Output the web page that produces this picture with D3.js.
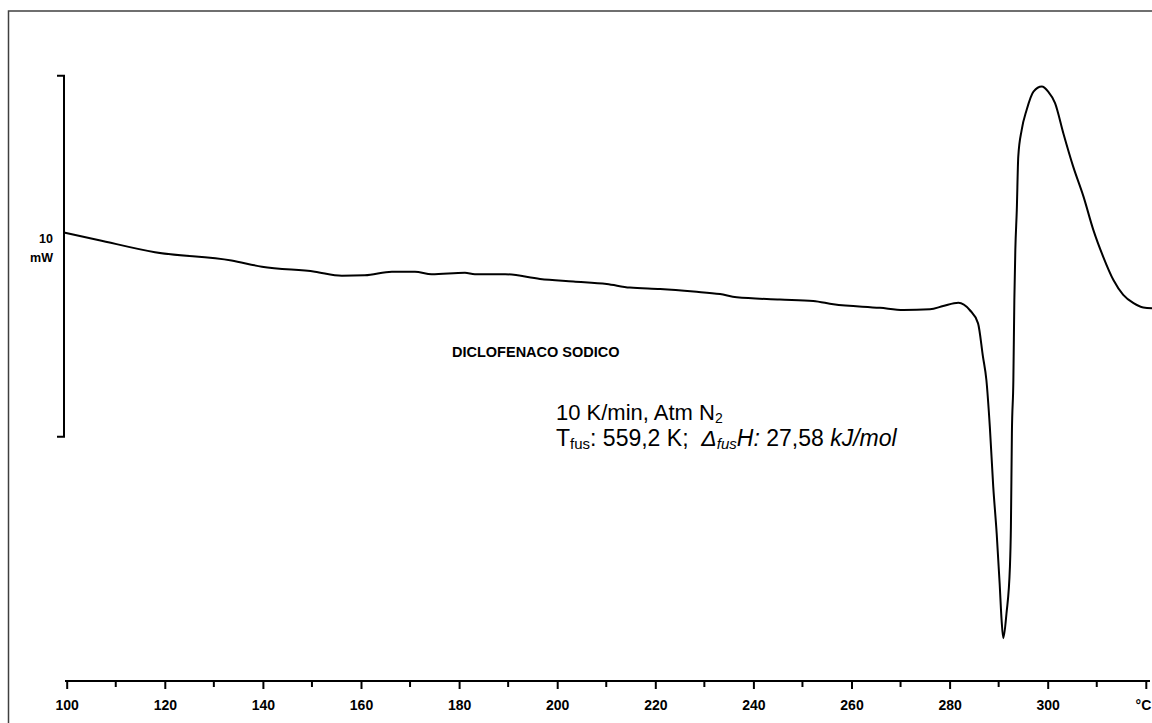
<!DOCTYPE html>
<html><head><meta charset="utf-8">
<script src="https://cdn.jsdelivr.net/npm/d3@7/dist/d3.min.js"></script>
<style>html,body{margin:0;padding:0;background:#fff;} svg{display:block;} text{font-family:"Liberation Sans",Arial,sans-serif;white-space:pre;}</style>
</head><body>
<svg id="chart" width="1152" height="723"></svg>
<script>
// DSC curve: temperature (°C) and heat flow (mW, arbitrary offset; endo down)
const temperature = [99.3,106.4,118.0,133.6,139.8,150.6,156.1,160.8,166.3,171.0,174.4,181.2,183.2,189.4,196.5,203.3,210.1,214.8,221.0,227.8,233.2,236.6,245.4,252.2,256.3,265.8,270.6,276.0,278.7,281.8,284.1,285.8,286.8,287.5,288.2,288.9,289.6,290.2,290.6,290.95,291.6,292.3,292.5,292.7,293.0,293.2,293.4,293.7,294.0,294.7,295.7,297.1,298.8,300.1,301.5,303.2,305.2,307.3,309.3,311.3,313.4,315.4,317.5,319.5,321.3];
const heatFlow    = [5.66,5.45,5.11,4.88,4.71,4.57,4.46,4.47,4.57,4.57,4.50,4.54,4.50,4.50,4.37,4.30,4.23,4.13,4.09,4.02,3.95,3.86,3.80,3.76,3.67,3.57,3.51,3.53,3.62,3.71,3.51,3.14,2.22,1.57,0.28,-1.39,-2.68,-4.06,-5.08,-5.58,-4.89,-3.60,-2.49,0.09,1.57,3.79,5.17,6.28,7.76,8.50,9.05,9.56,9.70,9.56,9.24,8.40,7.48,6.65,5.73,4.99,4.34,3.93,3.70,3.58,3.56];

const majorTicks = [100,120,140,160,180,200,220,240,260,280,300,320];
const tickLabels = ["100","120","140","160","180","200","220","240","260","280","300","°C"];
const minorTicks = [110,130,150,170,190,210,230,250,270,290,310];
const scaleBar = [0,10];
const scaleBarLabel = ["10","mW"];
const sampleName = "DICLOFENACO SODICO";

const svg = d3.select("#chart");
const x = d3.scaleLinear().domain([100,320]).range([66.7,1145.8]);
const y = d3.scaleLinear().domain([0,10]).range([436.7,75.7]);
const axisY = 681;

// frame
svg.append("path").attr("d","M8.5,723 V11 H1152").attr("fill","none").attr("stroke","#404040").attr("stroke-width",1.5);

// x axis
const xAxis = d3.axisBottom(x).tickValues(majorTicks).tickSize(8).tickPadding(11)
  .tickFormat((d,i)=>tickLabels[i]);
const gx = svg.append("g").attr("transform",`translate(0,${axisY})`).call(xAxis);
gx.select(".domain").remove();
gx.selectAll(".tick line").attr("stroke","#000").attr("stroke-width",2);
gx.selectAll(".tick text").attr("fill","#000").attr("font-size",14).attr("font-weight","bold")
  .attr("font-family","'Liberation Sans',Arial,sans-serif")
  .filter((d,i)=>i===majorTicks.length-1).attr("text-anchor","end").attr("dx",5);
svg.append("line").attr("x1",65).attr("x2",1150).attr("y1",axisY).attr("y2",axisY).attr("stroke","#000").attr("stroke-width",2);
svg.append("g").selectAll("line").data(minorTicks).join("line")
  .attr("x1",d=>x(d)).attr("x2",d=>x(d)).attr("y1",axisY).attr("y2",axisY+6)
  .attr("stroke","#000").attr("stroke-width",2);

// scale bar (10 mW)
svg.append("path")
  .attr("d",`M57,${y(scaleBar[1])} H64 V${y(scaleBar[0])} H57`)
  .attr("fill","none").attr("stroke","#000").attr("stroke-width",2);
svg.append("text").attr("x",53).attr("y",243).attr("text-anchor","end").attr("font-size",12.5).attr("font-weight","bold").text(scaleBarLabel[0]);
svg.append("text").attr("x",53).attr("y",262).attr("text-anchor","end").attr("font-size",12.5).attr("font-weight","bold").text(scaleBarLabel[1]);

// curve
const pts = temperature.map((t,i)=>[t,heatFlow[i]]);
const line = d3.line().x(d=>x(d[0])).y(d=>y(d[1])).curve(d3.curveMonotoneX);
svg.append("path").datum(pts).attr("d",line).attr("fill","none").attr("stroke","#000").attr("stroke-width",2).attr("stroke-linejoin","round");

// annotations
svg.append("text").attr("x",452).attr("y",357).attr("font-size",14.5).attr("font-weight","bold").text(sampleName);

const t1 = svg.append("text").attr("x",556).attr("y",420).attr("font-size",22);
t1.append("tspan").text("10 K/min, Atm N");
t1.append("tspan").attr("font-size",14).attr("dy",3).text("2");

const t2 = svg.append("text").attr("x",556).attr("y",446).attr("font-size",23);
t2.append("tspan").text("T");
t2.append("tspan").attr("font-size",15).attr("dy",3).text("fus");
t2.append("tspan").attr("dy",-3).text(": 559,2 K;  ");
t2.append("tspan").attr("font-style","italic").text("Δ");
t2.append("tspan").attr("font-style","italic").attr("font-size",15).attr("dy",3).text("fus");
t2.append("tspan").attr("font-style","italic").attr("dy",-3).text("H:");
t2.append("tspan").text(" 27,58 ");
t2.append("tspan").attr("font-style","italic").text("kJ/mol");
</script>
</body></html>
